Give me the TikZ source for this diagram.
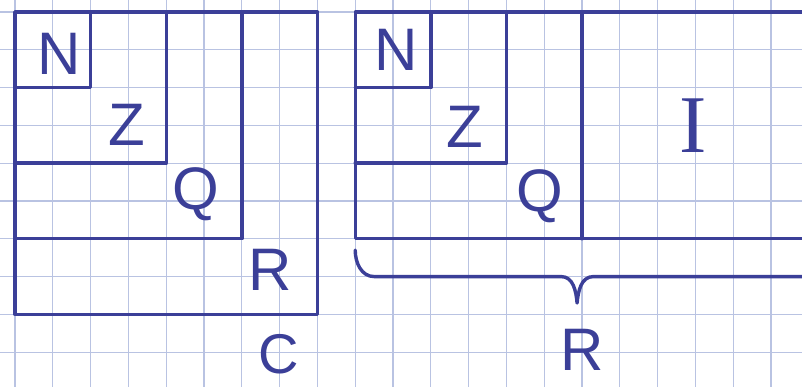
\documentclass[tikz,border=0pt]{standalone}
\usepackage{fontspec}
\setsansfont{Liberation Sans}
\setmainfont{Liberation Serif}
\definecolor{ink}{HTML}{3B3F98}
\definecolor{gridc}{HTML}{B9C3E2}
\begin{document}
\begin{tikzpicture}[x=37.8pt,y=-37.8pt,
  ink/.style={draw=ink,line width=3.4pt,line join=round,line cap=round},
  lab/.style={text=ink,font=\sffamily\fontsize{60}{60}\selectfont,inner sep=0pt,anchor=center}]
\useasboundingbox (-0.397,-0.317) rectangle (20.82,9.92);
\fill[white] (-0.397,-0.317) rectangle (20.82,9.92);
% grid paper
\foreach \i in {0,...,20} \draw[gridc,line width=1.1pt] (\i,-0.317) -- (\i,9.92);
\foreach \j in {0,...,9} \draw[gridc,line width=1.1pt] (-0.397,\j) -- (20.82,\j);
% left figure
\draw[ink] (0,0) rectangle (8,8);
\draw[ink] (0,6) -- (6,6) -- (6,0);
\draw[ink] (0,4) -- (4,4) -- (4,0);
\draw[ink] (0,2) -- (2,2) -- (2,0);
\node[lab] (lN) at (1.16,1.11) {N};
\node[lab] (lZ) at (2.96,2.99) {Z};
\node[lab] (lQ) at (4.79,4.81) {Q};
\node[lab] (lR) at (6.75,6.83) {R};
\node[lab,font=\sffamily\fontsize{56}{56}\selectfont] (lC) at (6.98,9.05) {C};
% right figure
\draw[ink] (20.9,0) -- (9,0) -- (9,6) -- (20.9,6);
\draw[ink] (15,0) -- (15,6);
\draw[ink] (9,4) -- (13,4) -- (13,0);
\draw[ink] (9,2) -- (11,2) -- (11,0);
\node[lab] (rN) at (10.08,1.0) {N};
\node[lab] (rZ) at (11.9,3.04) {Z};
\node[lab] (rQ) at (13.89,4.87) {Q};
\node[lab,font=\rmfamily\fontsize{82}{82}\selectfont] (rI) at (17.94,3.02) {I};
% brace
\draw[ink] (9,6.3) to[out=-90,in=180] (9.5,7) -- (14.45,7)
  to[out=0,in=95] (14.87,7.7) to[out=85,in=180] (15.3,7) -- (20.9,7);
\node[lab] (rR) at (15.0,8.94) {R};
\end{tikzpicture}
\end{document}
